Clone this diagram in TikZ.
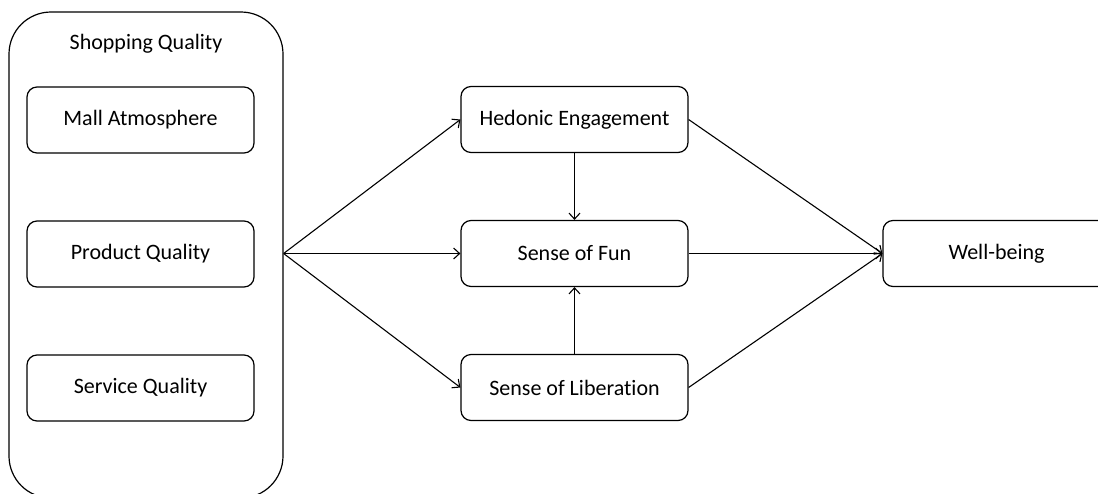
\documentclass[tikz,border=0pt]{standalone}
\usepackage{fontspec}
\setmainfont[Ligatures=NoCommon]{Carlito}
\usetikzlibrary{arrows.meta}
\begin{document}
\begin{tikzpicture}[x=1pt,y=-1pt,
  box/.style={draw, line width=1.2pt, rounded corners=10pt, minimum width=227pt, minimum height=66pt, inner sep=0pt, font=\fontsize{22}{26}\selectfont},
  container/.style={draw, line width=1.2pt, rounded corners=42pt, minimum width=274pt, minimum height=486pt, inner sep=0pt},
  lbl/.style={font=\fontsize{22}{26}\selectfont, inner sep=0pt},
  arr/.style={-{Straight Barb[length=6pt,width=11pt]}, line width=1.1pt}]
\useasboundingbox (0,0) rectangle (1098,493);
\node[container] (sq) at (146,255) {};
\node[lbl] (sqt) at (146,44) {Shopping Quality};
\node[box] (mall) at (140.5,120) {Mall Atmosphere};
\node[box] (prod) at (140.5,254) {Product Quality};
\node[box] (serv) at (140.5,388) {Service Quality};
\node[box] (hed) at (574.5,119.5) {Hedonic Engagement};
\node[box] (fun) at (574.5,253.5) {Sense of Fun};
\node[box] (lib) at (574.5,387.5) {Sense of Liberation};
\node[box] (wb) at (996.5,253.5) {Well-being};
\coordinate (src) at (sq.east |- fun.west);
\draw[arr] (src) -- (hed.west);
\draw[arr] (src) -- (fun.west);
\draw[arr] (src) -- (lib.west);
\draw[arr] (hed.south) -- (fun.north);
\draw[arr] (lib.north) -- (fun.south);
\draw[arr] (hed.east) -- (wb.west);
\draw[arr] (fun.east) -- (wb.west);
\draw[arr] (lib.east) -- (wb.west);
\end{tikzpicture}
\end{document}
